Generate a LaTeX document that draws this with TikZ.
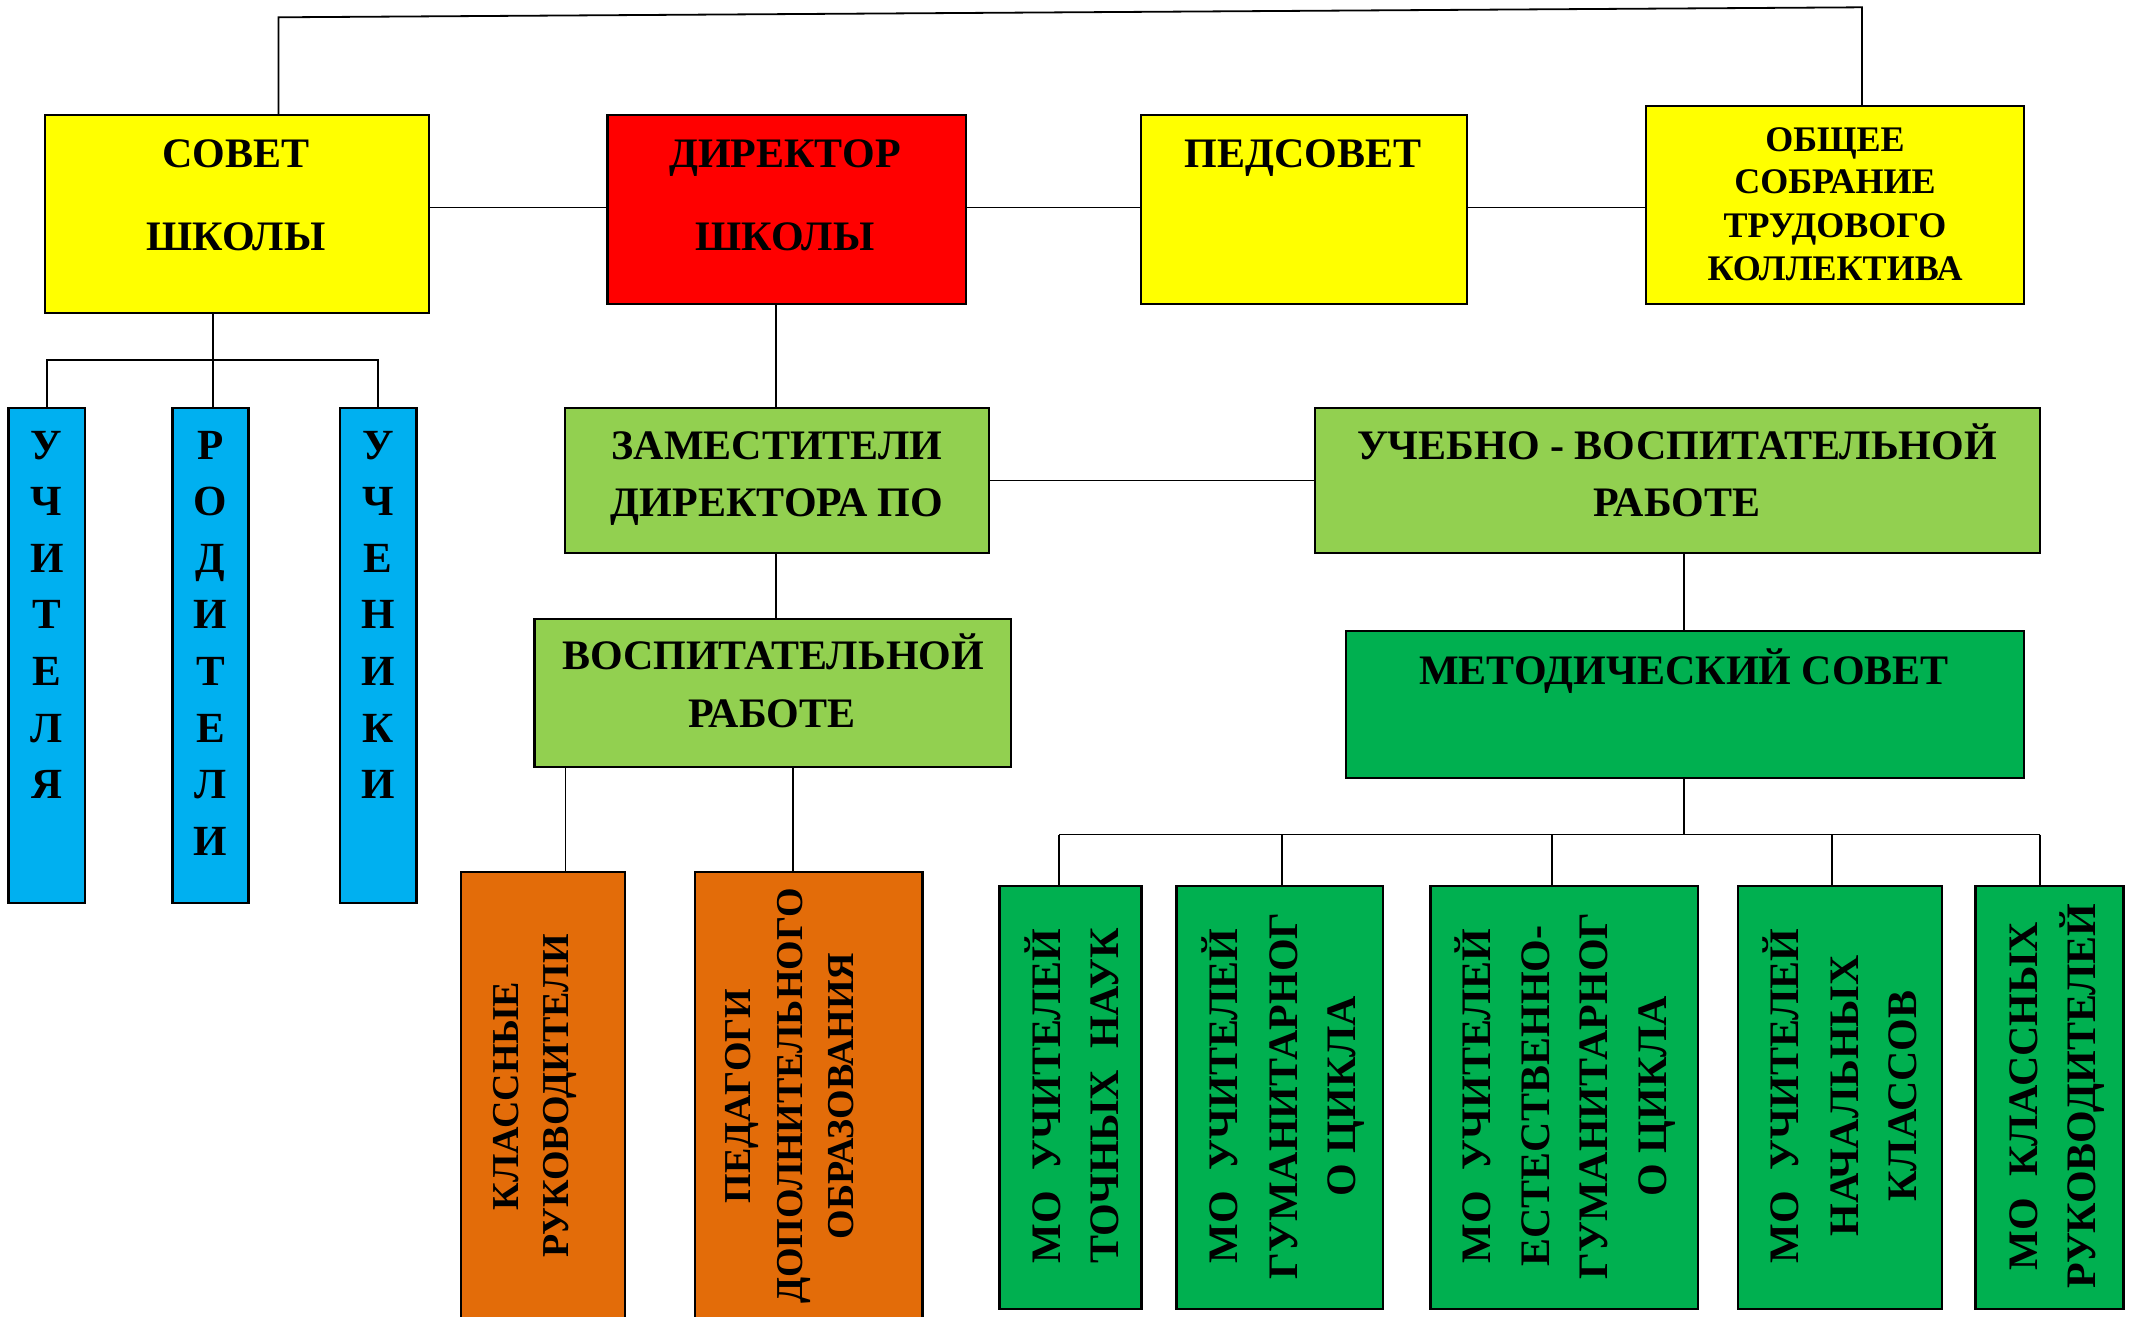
\documentclass[tikz,border=0pt]{standalone}
\usepackage{fontspec}
\setmainfont{Liberation Serif}
\definecolor{cyel}{HTML}{FFFF00}
\definecolor{cred}{HTML}{FF0000}
\definecolor{clgr}{HTML}{92D050}
\definecolor{cgrn}{HTML}{00B050}
\definecolor{cblu}{HTML}{00B0F0}
\definecolor{corg}{HTML}{E36C09}
\begin{document}
\begin{tikzpicture}[x=1pt,y=-1pt,
  orgbox/.style={draw=black, line width=2.2pt, inner sep=0pt},
  con/.style={draw=black, line width=1.8pt},
  hl/.style={anchor=base, inner sep=0pt, font=\bfseries\fontsize{42}{50}\selectfont},
  sl/.style={anchor=base, inner sep=0pt, font=\bfseries\fontsize{36}{43}\selectfont},
  bl/.style={anchor=base, inner sep=0pt, font=\bfseries\fontsize{43}{50}\selectfont},
  vl/.style={anchor=base, rotate=90, inner sep=0pt, font=\bfseries\fontsize{42}{50}\selectfont},
  ol/.style={anchor=base, rotate=90, inner sep=0pt, font=\bfseries\fontsize{38}{45}\selectfont}
]
\useasboundingbox (0,0) rectangle (2129,1317);
\fill[white] (0,0) rectangle (2129,1317);
\clip (0,0) rectangle (2129,1317);

% top row
\node[orgbox, fill=cyel, minimum width=383.6pt, minimum height=198pt] (sovet) at (236.8,214) {};
\node[orgbox, fill=cred, minimum width=358.5pt, minimum height=189pt] (dir) at (786.75,209.5) {};
\node[orgbox, fill=cyel, minimum width=326pt, minimum height=189pt] (ped) at (1304,209.5) {};
\node[orgbox, fill=cyel, minimum width=378pt, minimum height=198pt] (obsh) at (1835,205) {};

\node[hl] (t1) at (236,167) {СОВЕТ};
\node[hl] (t2) at (236,250) {ШКОЛЫ};
\node[hl] (t3) at (785,167) {ДИРЕКТОР};
\node[hl] (t4) at (785,250) {ШКОЛЫ};
\node[hl] (t5) at (1303,167) {ПЕДСОВЕТ};
\node[sl] (t6) at (1835,151) {ОБЩЕЕ};
\node[sl] (t7) at (1835,193.5) {СОБРАНИЕ};
\node[sl] (t8) at (1835,237) {ТРУДОВОГО};
\node[sl] (t9) at (1835,280) {КОЛЛЕКТИВА};

% blue columns
\node[orgbox, fill=cblu, minimum width=76.5pt, minimum height=495pt] (blue1) at (46.75,655.5) {};
\node[orgbox, fill=cblu, minimum width=76pt, minimum height=495pt] (blue2) at (210.5,655.5) {};
\node[orgbox, fill=cblu, minimum width=76.5pt, minimum height=495pt] (blue3) at (378.25,655.5) {};
\foreach \l [count=\i] in {У,Ч,И,Т,Е,Л,Я}
  \node[bl] (ba\i) at ({46.75},{459+56.6*(\i-1)}) {\l};
\foreach \l [count=\i] in {Р,О,Д,И,Т,Е,Л,И}
  \node[bl] (bb\i) at ({210.5},{459+56.6*(\i-1)}) {\l};
\foreach \l [count=\i] in {У,Ч,Е,Н,И,К,И}
  \node[bl] (bc\i) at ({378.25},{459+56.6*(\i-1)}) {\l};

% light green
\node[orgbox, fill=clgr, minimum width=424pt, minimum height=145pt] (zam) at (777,480.5) {};
\node[orgbox, fill=clgr, minimum width=725pt, minimum height=145pt] (ucheb) at (1677.5,480.5) {};
\node[orgbox, fill=clgr, minimum width=476.5pt, minimum height=148pt] (vosp) at (772.75,693) {};
\node[orgbox, fill=cgrn, minimum width=678.4pt, minimum height=147pt] (metod) at (1684.8,704.5) {};

\node[hl] (z1) at (777,459) {ЗАМЕСТИТЕЛИ};
\node[hl] (z2) at (777,516) {ДИРЕКТОРА ПО};
\node[hl] (u1) at (1677,459) {УЧЕБНО - ВОСПИТАТЕЛЬНОЙ};
\node[hl] (u2) at (1677,516) {РАБОТЕ};
\node[hl] (v1) at (773,669) {ВОСПИТАТЕЛЬНОЙ};
\node[hl] (v2) at (772,727) {РАБОТЕ};
\node[hl] (m1) at (1684,684) {МЕТОДИЧЕСКИЙ СОВЕТ};

% orange
\node[orgbox, fill=corg, minimum width=164pt, minimum height=470pt] (o1) at (543,1107) {};
\node[orgbox, fill=corg, minimum width=227.5pt, minimum height=470pt] (o2) at (808.75,1107) {};
\node[ol] (o1a) at (518,1096) {КЛАССНЫЕ};
\node[ol] (o1b) at (568.5,1096) {РУКОВОДИТЕЛИ};
\node[ol] (o2a) at (750,1096) {ПЕДАГОГИ};
\node[ol] (o2b) at (802.5,1096) {ДОПОЛНИТЕЛЬНОГО};
\node[ol] (o2c) at (853,1096) {ОБРАЗОВАНИЯ};

% MO boxes
\node[orgbox, fill=cgrn, minimum width=142pt, minimum height=423pt] (mo1) at (1070.5,1097.5) {};
\node[orgbox, fill=cgrn, minimum width=206.5pt, minimum height=423pt] (mo2) at (1279.75,1097.5) {};
\node[orgbox, fill=cgrn, minimum width=267.5pt, minimum height=423pt] (mo3) at (1564.25,1097.5) {};
\node[orgbox, fill=cgrn, minimum width=204pt, minimum height=423pt] (mo4) at (1840,1097.5) {};
\node[orgbox, fill=cgrn, minimum width=148pt, minimum height=423pt] (mo5) at (2049.5,1097.5) {};

\node[vl] (ma1) at (1060.5,1096) {МО~~УЧИТЕЛЕЙ};
\node[vl] (ma2) at (1118.6,1096) {ТОЧНЫХ~~НАУК};
\node[vl] (mb1) at (1237,1096) {МО~~УЧИТЕЛЕЙ};
\node[vl] (mb2) at (1297,1096) {ГУМАНИТАРНОГ};
\node[vl] (mb3) at (1355,1096) {О ЦИКЛА};
\node[vl] (mc1) at (1490.7,1096) {МО~~УЧИТЕЛЕЙ};
\node[vl] (mc2) at (1549.7,1096) {ЕСТЕСТВЕННО-};
\node[vl] (mc3) at (1607,1096) {ГУМАНИТАРНОГ};
\node[vl] (mc4) at (1666,1096) {О ЦИКЛА};
\node[vl] (md1) at (1798.9,1096) {МО~~УЧИТЕЛЕЙ};
\node[vl] (md2) at (1858,1096) {НАЧАЛЬНЫХ};
\node[vl] (md3) at (1916,1096) {КЛАССОВ};
\node[vl] (me1) at (2037,1096) {МО~~КЛАССНЫХ};
\node[vl] (me2) at (2095,1096) {РУКОВОДИТЕЛЕЙ};

% connectors
\coordinate (tl) at (278.5,17.3);
\coordinate (tr) at (1862,7.3);
\draw[con] (tl |- sovet.north) -- (tl) -- (tr) -- (tr |- obsh.north);

\coordinate (hy) at (0,207.5);
\draw[con] (sovet.east |- hy) -- (dir.west |- hy);
\draw[con] (dir.east |- hy) -- (ped.west |- hy);
\draw[con] (ped.east |- hy) -- (obsh.west |- hy);

\coordinate (sb) at (212.6,360);
\draw[con] (sb |- sovet.south) -- (sb |- blue2.north);
\draw[con] (blue1.north) -- (blue1.north |- sb) -- (blue3.north |- sb) -- (blue3.north);

\coordinate (dx) at (776,0);
\draw[con] (dx |- dir.south) -- (dx |- zam.north);
\draw[con] (dx |- zam.south) -- (dx |- vosp.north);
\draw[con] (zam.east) -- (ucheb.west);

\coordinate (c1) at (565.4,0);
\coordinate (c2) at (792.7,0);
\draw[con] (c1 |- vosp.south) -- (c1 |- o1.north);
\draw[con] (c2 |- vosp.south) -- (c2 |- o2.north);

\coordinate (ux) at (1684,0);
\coordinate (mb) at (0,834.5);
\draw[con] (ux |- ucheb.south) -- (ux |- metod.north);
\draw[con] (ux |- metod.south) -- (ux |- mb);

\coordinate (d1) at (1059,834.5);
\coordinate (d2) at (1282,834.5);
\coordinate (d3) at (1552,834.5);
\coordinate (d4) at (1831.6,834.5);
\coordinate (d5) at (2040,834.5);
\draw[con] (d1) -- (d5);
\foreach \k/\n in {1/mo1,2/mo2,3/mo3,4/mo4,5/mo5}
  \draw[con] (d\k) -- (d\k |- \n.north);
\end{tikzpicture}
\end{document}
